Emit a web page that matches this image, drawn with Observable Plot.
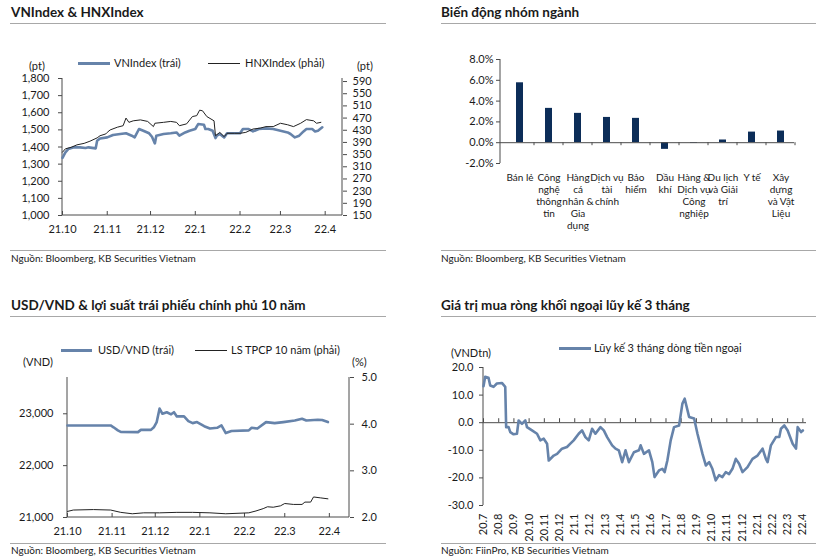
<!DOCTYPE html>
<html><head><meta charset="utf-8">
<script src="https://cdn.jsdelivr.net/npm/d3@7"></script>
<script src="https://cdn.jsdelivr.net/npm/@observablehq/plot@0.6"></script>
<style>
body{margin:0;background:#fff;}
#root{position:relative;width:828px;height:557px;background:#fff;font-family:Lato,sans-serif;overflow:hidden;}
</style></head>
<body><div id="root"></div>
<script>
// ---------- DATA ----------
// Panel 1: VNIndex & HNXIndex
const monthTickDates = ["2021-10-01","2021-11-01","2021-12-01","2022-01-01","2022-02-01","2022-03-01","2022-04-01"];
const monthTickLabels = ["21.10","21.11","21.12","22.1","22.2","22.3","22.4"];
const vnDates = ["2021-10-01","2021-10-03","2021-10-05","2021-10-09","2021-10-13","2021-10-17","2021-10-19","2021-10-24","2021-10-25","2021-10-27","2021-11-01","2021-11-05","2021-11-10","2021-11-14","2021-11-18","2021-11-20","2021-11-23","2021-11-26","2021-11-30","2021-12-02","2021-12-04","2021-12-05","2021-12-10","2021-12-15","2021-12-19","2021-12-21","2021-12-25","2021-12-28","2022-01-01","2022-01-03","2022-01-07","2022-01-08","2022-01-10","2022-01-13","2022-01-15","2022-01-16","2022-01-18","2022-01-21","2022-01-23","2022-01-28","2022-02-01","2022-02-03","2022-02-07","2022-02-10","2022-02-14","2022-02-19","2022-02-24","2022-03-01","2022-03-06","2022-03-08","2022-03-11","2022-03-14","2022-03-17","2022-03-19","2022-03-23","2022-03-25","2022-03-27","2022-03-30"];
const vnValues = [1336,1369,1388,1398,1398,1394,1398,1392,1437,1450,1456,1470,1476,1480,1466,1456,1505,1495,1480,1460,1421,1466,1476,1480,1485,1466,1485,1495,1505,1534,1530,1505,1505,1495,1452,1466,1476,1456,1480,1480,1480,1505,1505,1491,1505,1509,1505,1495,1485,1476,1456,1466,1491,1505,1505,1491,1495,1515];
const hnxDates = ["2021-10-01","2021-10-03","2021-10-07","2021-10-11","2021-10-16","2021-10-20","2021-10-25","2021-10-27","2021-10-31","2021-11-01","2021-11-03","2021-11-08","2021-11-12","2021-11-14","2021-11-16","2021-11-19","2021-11-24","2021-11-29","2021-12-03","2021-12-04","2021-12-10","2021-12-15","2021-12-19","2021-12-21","2021-12-26","2021-12-30","2022-01-02","2022-01-04","2022-01-06","2022-01-09","2022-01-14","2022-01-15","2022-01-18","2022-01-21","2022-01-23","2022-01-28","2022-02-01","2022-02-05","2022-02-10","2022-02-15","2022-02-19","2022-02-24","2022-03-01","2022-03-06","2022-03-10","2022-03-15","2022-03-19","2022-03-24","2022-03-26","2022-03-29"];
const hnxValues = [358,369,374,382,387,394,405,412,418,423,431,440,445,470,456,461,464,459,442,453,456,459,456,445,451,475,478,496,494,475,461,412,423,409,420,420,420,423,434,437,442,442,453,448,442,453,465,461,453,456];
const vnTicks = [1000,1100,1200,1300,1400,1500,1600,1700,1800];
const hnxTicks = [150,190,230,270,310,350,390,430,470,510,550,590];

// Panel 2: sector performance (%)
const sectorLabels = ["Bán lẻ","Công\nnghệ\nthông\ntin","Hàng\ncá\nnhân &\nGia\ndụng","Dịch vụ\ntài\nchính","Bảo\nhiểm","Dầu\nkhí","Hàng &\nDịch vụ\nCông\nnghiệp","Du lịch\nvà Giải\ntrí","Y tế","Xây\ndựng\nvà Vật\nLiệu"];
const sectorValues = [5.76,3.3,2.82,2.43,2.34,-0.64,-0.05,0.26,1.02,1.12];
const sectorTicks = [-2,0,2,4,6,8];

// Panel 3: USD/VND & 10Y bond yield
const usdDates = ["2021-10-01","2021-10-31","2021-11-02","2021-11-05","2021-11-07","2021-11-19","2021-11-21","2021-11-28","2021-11-30","2021-12-02","2021-12-04","2021-12-06","2021-12-09","2021-12-12","2021-12-14","2021-12-16","2021-12-21","2021-12-24","2021-12-27","2021-12-30","2022-01-04","2022-01-08","2022-01-13","2022-01-16","2022-01-19","2022-01-23","2022-02-04","2022-02-06","2022-02-10","2022-02-16","2022-02-22","2022-02-28","2022-03-08","2022-03-13","2022-03-16","2022-03-24","2022-03-27","2022-03-31"];
const usdValues = [22775,22775,22740,22680,22650,22647,22690,22690,22740,22840,23100,23000,23030,22990,23030,22950,22950,22860,22820,22840,22760,22715,22730,22775,22628,22667,22680,22730,22715,22840,22820,22840,22870,22905,22870,22885,22880,22840];
const bondDates = ["2021-10-01","2021-10-05","2021-10-19","2021-10-31","2021-11-07","2021-11-15","2021-11-23","2021-12-04","2021-12-16","2021-12-27","2022-01-08","2022-01-19","2022-02-04","2022-02-09","2022-02-14","2022-02-17","2022-02-21","2022-02-26","2022-03-01","2022-03-07","2022-03-13","2022-03-15","2022-03-19","2022-03-21","2022-03-26","2022-03-31"];
const bondValues = [2.13,2.16,2.17,2.16,2.11,2.08,2.10,2.10,2.11,2.11,2.10,2.08,2.10,2.14,2.19,2.23,2.22,2.25,2.30,2.28,2.28,2.33,2.33,2.44,2.42,2.40];
const usdTicks = [21000,22000,23000];
const bondTicks = [2,3,4,5];

// Panel 4: foreign net buying, 3-month cumulative (VND tn); x = months since 20.7
const flowMonthLabels = ["20.7","20.8","20.9","20.10","20.11","20.12","21.1","21.2","21.3","21.4","21.5","21.6","21.7","21.8","21.9","21.10","21.11","21.12","22.1","22.2","22.3","22.4"];
const flowT = [0,0.11,0.33,0.44,0.66,0.88,1.21,1.43,1.49,1.65,1.76,1.98,2.2,2.31,2.53,2.75,2.86,3.19,3.52,3.74,3.96,4.18,4.29,4.62,4.84,5.16,5.49,5.71,5.93,6.26,6.48,6.7,6.92,7.14,7.36,7.69,7.91,8.13,8.46,8.68,8.9,9.12,9.34,9.56,9.89,10.22,10.33,10.55,10.88,11.1,11.25,11.54,11.76,11.91,12.09,12.31,12.53,12.86,13.08,13.23,13.52,13.85,14.07,14.4,14.62,14.84,15.05,15.27,15.49,15.71,15.93,16.15,16.37,16.59,16.81,17.03,17.36,17.69,18.02,18.35,18.57,18.68,18.9,19.23,19.45,19.56,19.78,20,20.33,20.55,20.66,20.88,21];
const flowValues = [13.2,16.6,16.3,13.5,13,14.2,14.4,13,-1.6,-1.6,-3.4,-4.2,-4,0.8,-0.4,0.8,-1.6,-2.8,-4,-6.4,-5.8,-7.6,-13.7,-11.9,-11.3,-9.4,-8.8,-7.6,-6.4,-4,-2.8,-5.2,-6.4,-2.2,-4,-1.6,-2.8,-5.2,-8.2,-9.4,-10,-14.3,-10,-14.3,-10.7,-10,-8.2,-11.3,-10,-14.3,-19.7,-17.3,-16.7,-17.9,-13.7,-6.4,-1.6,-1,6.9,8.7,2.1,1.5,-4,-11.3,-15.5,-14.3,-16.7,-20.9,-19,-19.7,-17.9,-18.6,-16.7,-13.1,-14.9,-17.9,-16.1,-13.1,-11.9,-9.4,-13.1,-14.3,-8.2,-5.2,-5.2,-2.2,-1,-2.8,-7.6,-9.4,-1.6,-3.4,-2.8];
const flowTicks = [-30,-20,-10,0,10,20];

// ---------- HELPERS ----------
const BLUE = "#6683aa", DARK = "#222", NAVY = "#0c2d58", AX = "#4a4a4a", TXT = "#1a1a1a";
const root = document.getElementById("root");
const SVGNS = "http://www.w3.org/2000/svg";
function txt(x, yc, s, {size = 11, weight = 400, anchor = "start"} = {}) {
  const d = document.createElement("div");
  d.textContent = s;
  Object.assign(d.style, {position: "absolute", top: (yc - size * 0.62) + "px", fontSize: size + "px", fontWeight: weight,
    lineHeight: (size * 1.2) + "px", whiteSpace: "nowrap", color: TXT});
  if (anchor === "end") d.style.right = (828 - x) + "px";
  else if (anchor === "middle") { d.style.left = x + "px"; d.style.transform = "translateX(-50%)"; }
  else d.style.left = x + "px";
  root.appendChild(d);
}
function hline(x1, x2, y, color = "#a8a8a8", w = 1) {
  const d = document.createElement("div");
  Object.assign(d.style, {position: "absolute", left: x1 + "px", top: (y - w / 2) + "px", width: (x2 - x1) + "px", height: w + "px", background: color});
  root.appendChild(d);
}
function place(svg, left, top) {
  svg.style.position = "absolute"; svg.style.left = left + "px"; svg.style.top = top + "px";
  root.appendChild(svg);
}
function edge(...sides) {
  return (index, scales, values, dim) => {
    const g = document.createElementNS(SVGNS, "g");
    const {width, height, marginTop: t, marginRight: r, marginBottom: b, marginLeft: l} = dim;
    const c = {left: [l, t, l, height - b], right: [width - r, t, width - r, height - b], bottom: [l, height - b, width - r, height - b]};
    for (const s of sides) {
      const ln = document.createElementNS(SVGNS, "line");
      const [x1, y1, x2, y2] = c[s];
      ln.setAttribute("x1", x1); ln.setAttribute("y1", y1); ln.setAttribute("x2", x2); ln.setAttribute("y2", y2);
      ln.setAttribute("stroke", AX); ln.setAttribute("stroke-width", 1);
      g.appendChild(ln);
    }
    return g;
  };
}
const style = {fontFamily: "Lato, sans-serif", fontSize: "11px", color: TXT, background: "transparent", overflow: "visible"};
const toSeries = (dates, vals) => dates.map((d, i) => ({date: new Date(d), value: vals[i]}));
const tickDates = monthTickDates.map(d => new Date(d));
const tickLabelOf = new Map(tickDates.map((d, i) => [+d, monthTickLabels[i]]));

// ---------- PANEL 1 ----------
txt(11, 12, "VNIndex & HNXIndex", {size: 13.5, weight: 700});
hline(10, 386, 23);
hline(78, 110, 63, BLUE, 3); txt(114, 63, "VNIndex (trái)");
hline(208, 240, 63, DARK, 1); txt(245, 63, "HNXIndex (phải)");
txt(29, 66, "(pt)"); txt(357, 66, "(pt)");
hline(10, 386, 250);
txt(11, 258, "Nguồn: Bloomberg, KB Securities Vietnam", {size: 10});

const p1x = {type: "utc", domain: [new Date("2021-10-01"), new Date("2022-04-13")]};
const p1dims = {width: 414, height: 245, marginLeft: 62, marginRight: 72, marginTop: 78, marginBottom: 30};
place(Plot.plot({
  ...p1dims, style, x: p1x, y: {domain: [vnTicks[0], vnTicks[vnTicks.length - 1]]},
  marks: [
    Plot.axisY({ticks: vnTicks, tickFormat: d3.format(","), tickSize: 4, tickPadding: 9, label: null, stroke: AX}),
    Plot.axisX({ticks: tickDates, tickFormat: d => tickLabelOf.get(+d), tickSize: 0, tickPadding: 10, label: null}),
    Plot.ruleX(tickDates, {x: d => d, y1: vnTicks[0], y2: vnTicks[0], insetTop: -4, stroke: AX}),
    edge("left", "right", "bottom"),
    Plot.line(toSeries(vnDates, vnValues), {x: "date", y: "value", stroke: BLUE, strokeWidth: 2.6})
  ]
}), 0, 0);
place(Plot.plot({
  ...p1dims, style, x: {...p1x, axis: null}, y: {domain: [150, 600]},
  marks: [
    Plot.axisY({anchor: "right", ticks: hnxTicks, tickSize: 4, tickPadding: 6, label: null, stroke: AX}),
    Plot.line(toSeries(hnxDates, hnxValues), {x: "date", y: "value", stroke: DARK, strokeWidth: 1})
  ]
}), 0, 0);

// ---------- PANEL 2 ----------
txt(441, 12, "Biến động nhóm ngành", {size: 13.5, weight: 700});
hline(441, 816, 23);
hline(441, 816, 250);
txt(441, 258, "Nguồn: Bloomberg, KB Securities Vietnam", {size: 10});
const sectors = sectorLabels.map((s, i) => ({name: s, value: sectorValues[i]}));
place(Plot.plot({
  width: 414, height: 250, marginLeft: 86, marginRight: 34, marginTop: 59, marginBottom: 87, style,
  x: {domain: sectorLabels, range: [90, 382], paddingInner: 0.76, paddingOuter: 0.38, axis: null},
  y: {domain: [-2, 8]},
  marks: [
    Plot.axisY({ticks: sectorTicks, tickFormat: d => d.toFixed(1) + "%", tickSize: 4, tickPadding: 3, label: null, stroke: AX}),
    Plot.barY(sectors, {x: "name", y: "value", fill: NAVY}),
    Plot.ruleY([0], {stroke: AX}),
    (index, {x, y}) => {
      const g = document.createElementNS(SVGNS, "g");
      const step = x.step(), bw = x.bandwidth();
      for (const d of x.domain()) {
        const cx = x(d) + bw / 2 + step / 2;
        const ln = document.createElementNS(SVGNS, "line");
        ln.setAttribute("x1", cx); ln.setAttribute("x2", cx); ln.setAttribute("y1", y(0)); ln.setAttribute("y2", y(0) + 3);
        ln.setAttribute("stroke", AX); g.appendChild(ln);
      }
      return g;
    },
    edge("left"),
    Plot.text(sectors, {x: "name", text: "name", frameAnchor: "bottom", lineAnchor: "top", dy: 9, lineHeight: 1.2, fontSize: 10, fill: TXT})
  ]
}), 414, 0);

// ---------- PANEL 3 ----------
txt(11, 305, "USD/VND & lợi suất trái phiếu chính phủ 10 năm", {size: 13.5, weight: 700});
hline(10, 386, 316);
hline(61, 92, 350, BLUE, 3); txt(98, 350, "USD/VND (trái)");
hline(195, 227, 350, DARK, 1); txt(231, 350, "LS TPCP 10 năm (phải)");
txt(23, 362, "(VND)"); txt(352, 362, "(%)");
hline(10, 386, 543);
txt(11, 550, "Nguồn: Bloomberg, KB Securities Vietnam", {size: 10});
const p3x = {type: "utc", domain: [new Date("2021-10-01"), new Date("2022-04-15")]};
const p3dims = {width: 414, height: 260, marginLeft: 67, marginRight: 65, marginTop: 97, marginBottom: 23};
place(Plot.plot({
  ...p3dims, style, x: p3x, y: {domain: [21000, 23700]},
  marks: [
    Plot.axisY({ticks: usdTicks, tickFormat: d3.format(","), tickSize: 4, tickPadding: 10, label: null, stroke: AX}),
    Plot.axisX({ticks: tickDates, tickFormat: d => tickLabelOf.get(+d), tickSize: 0, tickPadding: 10, label: null}),
    Plot.ruleX(tickDates, {x: d => d, y1: 21000, y2: 21000, insetTop: -4, stroke: AX}),
    edge("left", "right", "bottom"),
    Plot.line(toSeries(usdDates, usdValues), {x: "date", y: "value", stroke: BLUE, strokeWidth: 2.6})
  ]
}), 0, 280);
place(Plot.plot({
  ...p3dims, style, x: {...p3x, axis: null}, y: {domain: [2, 5]},
  marks: [
    Plot.axisY({anchor: "right", ticks: bondTicks, tickFormat: d => d.toFixed(1), tickSize: 4, tickPadding: 8, label: null, stroke: AX}),
    Plot.line(toSeries(bondDates, bondValues), {x: "date", y: "value", stroke: DARK, strokeWidth: 1})
  ]
}), 0, 280);

// ---------- PANEL 4 ----------
txt(441, 305, "Giá trị mua ròng khối ngoại lũy kế 3 tháng", {size: 13.5, weight: 700});
hline(441, 816, 316);
hline(559, 591, 348, BLUE, 3); txt(594, 348, "Lũy kế 3 tháng dòng tiền ngoại");
txt(451, 353, "(VNDtn)");
hline(441, 816, 543);
txt(441, 550, "Nguồn: FiinPro, KB Securities Vietnam", {size: 10});
const flow = flowT.map((t, i) => ({t, value: flowValues[i]}));
const monthIdx = flowMonthLabels.map((_, i) => i);
place(Plot.plot({
  width: 414, height: 270, marginLeft: 69, marginRight: 22, marginTop: 87, marginBottom: 45, style,
  x: {domain: [0, 21.24]}, y: {domain: [-30, 20]},
  marks: [
    Plot.axisY({ticks: flowTicks, tickFormat: d => d.toFixed(1), tickSize: 4, tickPadding: 6, label: null, stroke: AX}),
    Plot.axisX({ticks: monthIdx, tickFormat: i => flowMonthLabels[i], tickRotate: -90, tickSize: 0, tickPadding: 8, label: null}),
    Plot.ruleY([0], {stroke: AX}),
    Plot.ruleX(monthIdx, {x: d => d, y1: 0, y2: 0, insetTop: -4, stroke: AX}),
    edge("left"),
    Plot.line(flow, {x: "t", y: "value", stroke: BLUE, strokeWidth: 2.6})
  ]
}), 414, 280);
</script>
</body></html>
